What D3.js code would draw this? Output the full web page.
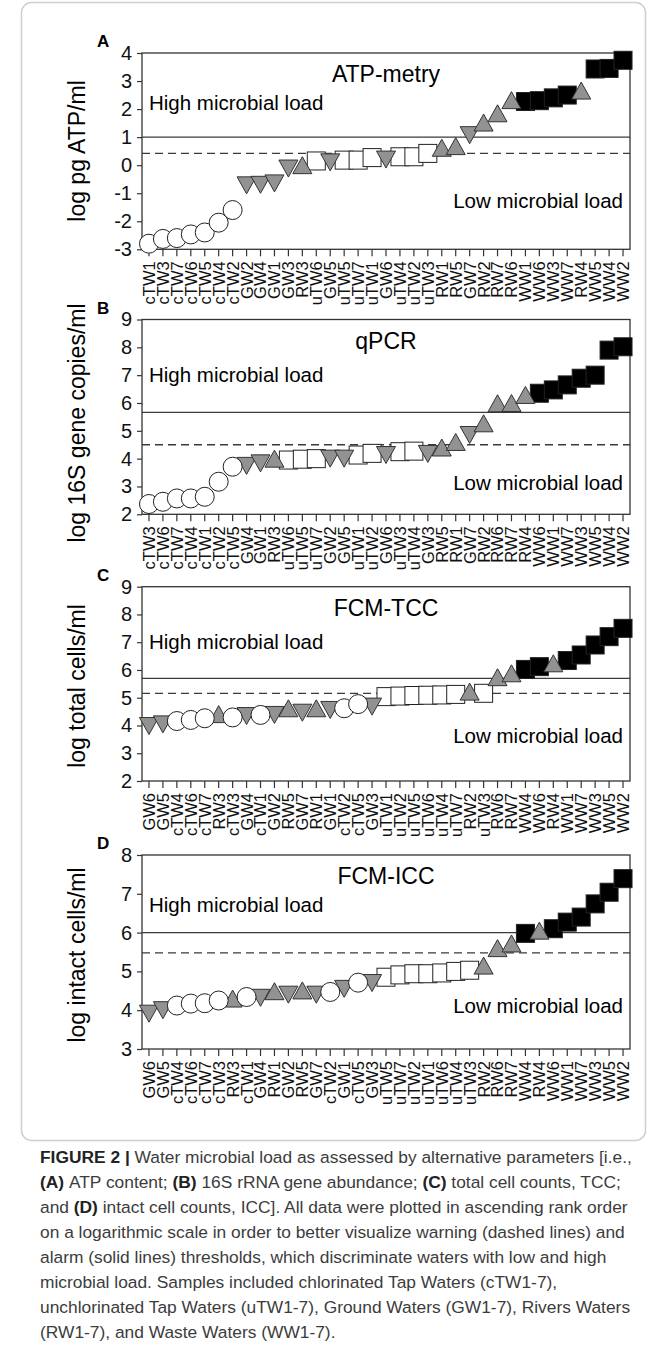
<!DOCTYPE html>
<html>
<head>
<meta charset="utf-8">
<script src="https://cdn.jsdelivr.net/npm/d3@7"></script>
<style>
  body { margin: 0; background: #fff; }
  svg { display: block; font-family: "Liberation Sans", Arial, sans-serif; }
</style>
</head>
<body>
<div id="chart"></div>
<script>
// sample order (ascending rank) and log values per panel
const labelsA = ['cTW1','cTW3','cTW7','cTW6','cTW5','cTW4','cTW2','GW2','GW4','GW1','GW3','RW3','uTW6','GW5','uTW5','uTW7','uTW1','GW6','uTW4','uTW2','uTW3','RW1','RW5','GW7','RW2','RW7','RW6','WW1','WW6','WW3','WW7','RW4','WW5','WW4','WW2'];
const valuesA = [-2.8,-2.63,-2.6,-2.47,-2.4,-2.05,-1.6,-0.72,-0.7,-0.65,-0.12,0.0,0.15,0.1,0.18,0.18,0.27,0.2,0.3,0.3,0.42,0.62,0.68,1.07,1.52,1.85,2.32,2.27,2.3,2.4,2.5,2.66,3.43,3.45,3.74];

const labelsB = ['cTW3','cTW6','cTW7','cTW4','cTW1','cTW2','cTW5','GW4','GW1','RW3','uTW6','uTW5','uTW7','GW2','GW5','uTW1','uTW2','GW6','uTW3','uTW4','GW3','RW5','RW1','GW7','RW2','RW6','RW7','RW4','WW6','WW1','WW7','WW3','WW5','WW4','WW2'];
const valuesB = [2.37,2.45,2.57,2.57,2.63,3.17,3.71,3.74,3.83,4.0,3.95,3.98,4.0,4.0,4.0,4.13,4.19,4.13,4.25,4.27,4.17,4.4,4.6,4.85,5.27,5.99,6.0,6.29,6.35,6.47,6.65,6.89,7.0,7.9,8.02];

const labelsC = ['GW6','GW5','cTW4','cTW6','cTW7','RW3','cTW3','GW4','cTW1','GW2','RW5','GW7','RW1','GW1','cTW2','cTW5','GW3','uTW1','uTW2','uTW5','uTW6','uTW4','uTW7','RW2','uTW3','RW6','RW7','WW4','WW6','RW4','WW1','WW7','WW3','WW5','WW2'];
const valuesC = [3.98,4.04,4.16,4.2,4.26,4.41,4.29,4.34,4.38,4.38,4.62,4.46,4.62,4.56,4.62,4.77,4.68,5.04,5.06,5.08,5.09,5.1,5.12,5.22,5.16,5.74,5.88,6.02,6.12,6.24,6.34,6.54,6.9,7.2,7.5];

const labelsD = ['GW6','GW5','cTW4','cTW6','cTW7','cTW3','RW3','cTW1','GW4','RW1','GW2','RW5','GW7','cTW2','GW1','cTW5','GW3','uTW5','uTW7','uTW2','uTW1','uTW6','uTW4','uTW3','RW2','RW6','RW7','WW4','RW4','WW6','WW1','WW7','WW3','WW5','WW2'];
const valuesD = [3.91,4.0,4.12,4.17,4.18,4.25,4.3,4.34,4.32,4.49,4.4,4.51,4.4,4.47,4.55,4.71,4.7,4.85,4.91,4.94,4.94,4.96,5.0,5.03,5.15,5.6,5.72,5.98,6.05,6.1,6.27,6.4,6.74,7.04,7.39];

const letters = ['A','B','C','D'];
const titles = ['ATP-metry','qPCR','FCM-TCC','FCM-ICC'];
const yTitles = ['log pg ATP/ml','log 16S gene copies/ml','log total cells/ml','log intact cells/ml'];
const yDomains = [[-3,4],[2,9],[2,9],[3,8]];
const alarm = [1.0, 5.66, 5.7, 6.0];     // solid lines
const warning = [0.42, 4.5, 5.16, 5.48]; // dashed lines

const captionLines = [
  [[1,'FIGURE 2 | '],[0,'Water microbial load as assessed by alternative parameters [i.e.,']],
  [[1,'(A) '],[0,'ATP content; '],[1,'(B) '],[0,'16S rRNA gene abundance; '],[1,'(C) '],[0,'total cell counts, TCC;']],
  [[0,'and '],[1,'(D) '],[0,'intact cell counts, ICC]. All data were plotted in ascending rank order']],
  [[0,'on a logarithmic scale in order to better visualize warning (dashed lines) and']],
  [[0,'alarm (solid lines) thresholds, which discriminate waters with low and high']],
  [[0,'microbial load. Samples included chlorinated Tap Waters (cTW1-7),']],
  [[0,'unchlorinated Tap Waters (uTW1-7), Ground Waters (GW1-7), Rivers Waters']],
  [[0,'(RW1-7), and Waste Waters (WW1-7).']]
];

(function(){
    const width = 657;
    const height = 1353;
    const plotLeft = 142;
    const plotRight = 630;

    const layout = [
        {top: 53,    bottom: 249.3, highY: 110, lowY: 208, titleY: 151},
        {top: 319.5, bottom: 514.3, highY: 382, lowY: 490, titleY: 423},
        {top: 586.7, bottom: 781,   highY: 649, lowY: 743, titleY: 686},
        {top: 855,   bottom: 1049,  highY: 912, lowY: 1013, titleY: 955}
    ];

    const labels = [labelsA, labelsB, labelsC, labelsD];
    const values = [valuesA, valuesB, valuesC, valuesD];

    const svg = d3.select('#chart')
        .append('svg')
            .attr('width', width)
            .attr('height', height);

    svg.append('rect')
        .attr('x', 21.5).attr('y', 2.5)
        .attr('width', 624).attr('height', 1138)
        .attr('rx', 10)
        .style('fill', 'none')
        .style('stroke', '#cfcfcf')
        .style('stroke-width', 1.5);

    const gray = '#929292';

    function kindOf(label) {
        return label.replace(/\d+$/, '');
    }

    layout.forEach((L, p) => {
        const data = labels[p].map((l, i) => ({label: l, value: values[p][i], kind: kindOf(l)}));

        const x = d3.scaleBand()
            .domain(labels[p])
            .range([plotLeft, plotRight]);

        const y = d3.scaleLinear()
            .domain(yDomains[p])
            .range([L.bottom, L.top]);

        const g = svg.append('g');

        // y axis
        const yAxis = g.append('g')
            .attr('transform', `translate(${plotLeft}, 0)`)
            .call(d3.axisLeft(y)
                .tickValues(d3.range(yDomains[p][0], yDomains[p][1] + 1))
                .tickSize(5)
                .tickPadding(5)
                .tickFormat(d => d < 0 ? '-' + Math.abs(d) : d));
        yAxis.select('.domain').remove();
        yAxis.selectAll('line').style('stroke', '#333').style('stroke-width', 1.2);
        yAxis.selectAll('text')
            .style('font-size', '20px')
            .style('font-family', '"Liberation Sans", Arial, sans-serif')
            .style('fill', '#111');

        // x axis
        const xAxis = g.append('g')
            .attr('transform', `translate(0, ${L.bottom})`)
            .call(d3.axisBottom(x).tickSize(7).tickSizeOuter(0));
        xAxis.select('.domain').remove();
        xAxis.selectAll('line').style('stroke', '#333').style('stroke-width', 1.2);
        xAxis.selectAll('text')
            .attr('transform', 'rotate(-90)')
            .attr('x', -12)
            .attr('y', 0)
            .attr('dy', '0.36em')
            .style('text-anchor', 'end')
            .style('font-size', '16.5px')
            .style('font-family', '"Liberation Sans", Arial, sans-serif')
            .style('fill', '#111');

        // plot box
        g.append('rect')
            .attr('x', plotLeft)
            .attr('y', L.top)
            .attr('width', plotRight - plotLeft)
            .attr('height', L.bottom - L.top)
            .style('fill', 'none')
            .style('stroke', '#333')
            .style('stroke-width', 1.3);

        // thresholds
        g.append('line')
            .attr('x1', plotLeft).attr('x2', plotRight)
            .attr('y1', y(alarm[p])).attr('y2', y(alarm[p]))
            .style('stroke', '#3a3a3a')
            .style('stroke-width', 1.3);
        g.append('line')
            .attr('x1', plotLeft).attr('x2', plotRight)
            .attr('y1', y(warning[p])).attr('y2', y(warning[p]))
            .style('stroke', '#3a3a3a')
            .style('stroke-width', 1.3)
            .style('stroke-dasharray', '8,5');

        // texts
        g.append('text')
            .attr('x', (plotLeft + plotRight) / 2)
            .attr('y', L.top + 29)
            .style('text-anchor', 'middle')
            .style('font-size', '23px')
            .text(titles[p]);
        g.append('text')
            .attr('x', plotLeft + 7)
            .attr('y', L.highY)
            .style('font-size', '20.5px')
            .text('High microbial load');
        g.append('text')
            .attr('x', plotRight - 7)
            .attr('y', L.lowY)
            .style('text-anchor', 'end')
            .style('font-size', '20.5px')
            .text('Low microbial load');
        g.append('text')
            .attr('transform', `translate(77, ${L.titleY}) rotate(-90)`)
            .attr('dy', '0.35em')
            .style('text-anchor', 'middle')
            .style('font-size', '23px')
            .text(yTitles[p]);
        g.append('text')
            .attr('x', 97)
            .attr('y', L.top - 6)
            .style('font-size', '17px')
            .style('font-weight', 'bold')
            .text(letters[p]);

        // markers: squares first, then triangles, then circles on top
        const order = {WW: 0, uTW: 1, GW: 2, RW: 2, cTW: 3};
        const sorted = data.slice().sort((a, b) => order[a.kind] - order[b.kind]);

        const cx = d => x(d.label) + x.bandwidth() / 2;

        sorted.forEach(d => {
            const px = cx(d), py = y(d.value);
            if (d.kind === 'cTW') {
                g.append('circle')
                    .attr('cx', px).attr('cy', py).attr('r', 9.5)
                    .style('fill', '#fff')
                    .style('stroke', '#222')
                    .style('stroke-width', 1);
            } else if (d.kind === 'uTW' || d.kind === 'WW') {
                g.append('rect')
                    .attr('x', px - 9).attr('y', py - 9)
                    .attr('width', 18).attr('height', 18)
                    .style('fill', d.kind === 'WW' ? '#000' : '#fff')
                    .style('stroke', '#222')
                    .style('stroke-width', 1);
            } else {
                const s = d.kind === 'RW' ? 1 : -1;
                const pts = [[px, py - 8.5 * s], [px + 9.5, py + 8.5 * s], [px - 9.5, py + 8.5 * s]];
                g.append('path')
                    .attr('d', 'M' + pts.map(q => q.join(',')).join('L') + 'Z')
                    .style('fill', gray)
                    .style('stroke', '#333')
                    .style('stroke-width', 1);
            }
        });
    });

    // caption
    const cap = svg.append('g')
        .style('fill', '#3c3c3c');
    const lines = captionLines.map((segs, i) => {
        const t = cap.append('text')
            .attr('x', 40)
            .attr('y', 1163 + i * 25)
            .style('font-size', '16px');
        segs.forEach(s => {
            t.append('tspan')
                .style('font-weight', s[0] ? 'bold' : 'normal')
                .style('fill', s[0] ? '#222' : '#3c3c3c')
                .text(s[1]);
        });
        return t;
    });
    const w0 = lines[0].node().getComputedTextLength();
    const fs = 16 * 592 / w0;
    lines.forEach(t => t.style('font-size', fs + 'px'));
}());
</script>
</body>
</html>
